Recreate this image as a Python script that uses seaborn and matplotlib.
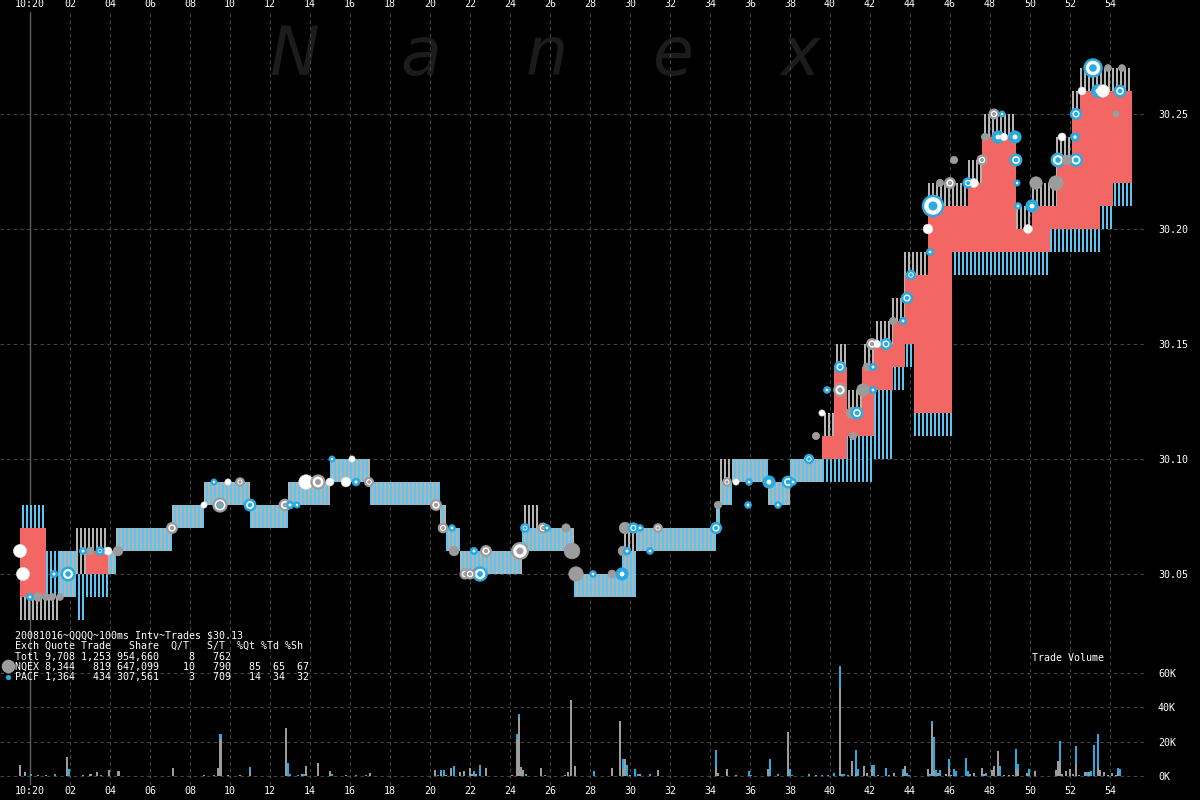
import numpy as np
import pandas as pd
import matplotlib
matplotlib.use("Agg")
import matplotlib.pyplot as plt
import seaborn as sns

# ---------------- data (time = seconds after 10:20:00) ----------------
seg_start = [-0.5, 0.8, 1.4, 2.3, 2.8, 3.9, 4.3, 7.1, 8.7, 11.0, 12.9, 15.0, 17.0,
             20.55, 20.8, 21.5, 24.6, 25.4, 27.2, 29.65, 30.3, 34.3, 34.5, 35.1,
             36.9, 38.0, 39.6, 40.2, 40.85, 41.6, 42.2, 43.15, 43.75, 44.2, 44.9,
             46.1, 46.9, 47.6, 49.3, 50.1, 51.0, 51.35, 52.1, 52.5, 53.5, 54.15]
quote_end = 55.1
nq_bid = [30.03, 30.03, 30.04, 30.05, 30.05, 30.05, 30.06, 30.07, 30.08, 30.07, 30.08, 30.09, 30.08,
          30.07, 30.06, 30.05, 30.06, 30.06, 30.04, 30.04, 30.06, 30.07, 30.08, 30.09,
          30.08, 30.09, 30.10, 30.10, 30.11, 30.11, 30.13, 30.14, 30.15, 30.12, 30.12,
          30.19, 30.19, 30.19, 30.19, 30.19, 30.20, 30.20, 30.20, 30.20, 30.21, 30.22]
nq_ask = [30.07, 30.04, 30.06, 30.07, 30.07, 30.06, 30.07, 30.08, 30.09, 30.08, 30.09, 30.10, 30.09,
          30.08, 30.07, 30.06, 30.08, 30.07, 30.05, 30.07, 30.07, 30.08, 30.10, 30.10,
          30.09, 30.10, 30.12, 30.15, 30.13, 30.15, 30.16, 30.17, 30.19, 30.19, 30.22,
          30.22, 30.23, 30.25, 30.21, 30.22, 30.22, 30.24, 30.26, 30.27, 30.27, 30.27]
pa_bid = [30.04, 30.04, 30.04, 30.03, 30.04, 30.05, 30.06, 30.07, 30.08, 30.07, 30.08, 30.09, 30.08,
          30.07, 30.06, 30.05, 30.06, 30.06, 30.04, 30.04, 30.06, 30.07, 30.08, 30.09,
          30.08, 30.09, 30.09, 30.09, 30.09, 30.09, 30.10, 30.13, 30.14, 30.11, 30.11,
          30.18, 30.18, 30.18, 30.18, 30.18, 30.19, 30.19, 30.19, 30.19, 30.20, 30.21]
pa_ask = [30.08, 30.06, 30.06, 30.05, 30.06, 30.06, 30.07, 30.08, 30.09, 30.08, 30.09, 30.10, 30.09,
          30.08, 30.07, 30.06, 30.07, 30.07, 30.05, 30.06, 30.07, 30.08, 30.09, 30.10,
          30.09, 30.10, 30.11, 30.14, 30.12, 30.14, 30.15, 30.16, 30.18, 30.18, 30.21,
          30.21, 30.22, 30.24, 30.20, 30.21, 30.21, 30.23, 30.25, 30.26, 30.26, 30.26]

trade_t = [-0.5, -0.35, 0.0, 0.4, 0.8, 1.1, 1.5, 1.2, 1.9, 2.65, 3.0, 3.5, 3.9, 4.4, 7.1, 8.7,
           9.5, 9.5, 9.2, 9.9, 10.5, 11.0, 12.75, 13.0, 13.35, 13.8, 14.4, 15.0, 15.8, 16.3,
           16.95, 15.1, 16.1, 20.3, 20.65, 21.1, 21.2, 22.2, 22.8, 21.75, 22.0, 22.5, 24.5,
           24.75, 25.65, 25.85, 26.8, 27.1, 27.3, 28.15, 29.1, 29.6, 29.75, 30.17, 30.5,
           29.65, 29.85, 31.4, 31.0, 34.3, 34.4, 34.85, 35.3, 35.95, 35.9, 36.95, 37.4,
           37.9, 38.15, 38.95, 39.3, 39.6, 39.85, 40.5, 40.5, 41.15, 41.1, 41.35, 41.65,
           42.15, 41.85, 42.15, 42.1, 42.35, 42.8, 43.15, 43.65, 43.85, 44.05, 45.0, 44.9,
           45.15, 45.5, 46.0, 46.2, 46.9, 47.2, 47.6, 47.75, 48.2, 48.6, 48.4, 48.7, 49.25,
           49.3, 49.35, 49.4, 49.9, 50.1, 50.3, 51.3, 51.6, 52.25, 51.4, 51.85, 52.3, 52.3,
           52.6, 53.15, 53.4, 53.65, 53.9, 54.5, 54.6, 54.3]
trade_p = [30.06, 30.05, 30.04, 30.04, 30.04, 30.04, 30.04, 30.05, 30.05, 30.06, 30.06, 30.06,
           30.06, 30.06, 30.07, 30.08, 30.08, 30.08, 30.09, 30.09, 30.09, 30.08, 30.08, 30.08,
           30.08, 30.09, 30.09, 30.09, 30.09, 30.09, 30.09, 30.10, 30.10, 30.08, 30.07, 30.07,
           30.06, 30.06, 30.06, 30.05, 30.05, 30.05, 30.06, 30.07, 30.07, 30.07, 30.07, 30.06,
           30.05, 30.05, 30.05, 30.05, 30.07, 30.07, 30.07, 30.06, 30.06, 30.07, 30.06, 30.07,
           30.08, 30.09, 30.09, 30.09, 30.08, 30.09, 30.08, 30.09, 30.09, 30.10, 30.11, 30.12,
           30.13, 30.13, 30.14, 30.11, 30.12, 30.12, 30.13, 30.13, 30.14, 30.14, 30.15, 30.15,
           30.15, 30.16, 30.16, 30.17, 30.18, 30.19, 30.20, 30.21, 30.22, 30.22, 30.23, 30.22,
           30.22, 30.23, 30.24, 30.25, 30.25, 30.24, 30.24, 30.24, 30.23, 30.22, 30.21, 30.20,
           30.21, 30.22, 30.22, 30.24, 30.24, 30.23, 30.23, 30.23, 30.25, 30.26, 30.27, 30.26,
           30.26, 30.27, 30.26, 30.27, 30.25]
trade_kind = ['W', 'W', 'P', 'N', 'N', 'N', 'N', 'P', 'RP', 'P', 'N', 'RP', 'W', 'N', 'RN', 'W',
              'RN', 'P', 'P', 'W', 'RN', 'RP', 'RN', 'P', 'P', 'W', 'RN', 'W', 'W', 'P',
              'RN', 'P', 'W', 'RN', 'RN', 'P', 'N', 'P', 'RN', 'RN', 'RN', 'RP', 'RN',
              'RP', 'RN', 'P', 'N', 'N', 'N', 'P', 'N', 'P', 'N', 'RP', 'P',
              'N', 'P', 'RN', 'P', 'RP', 'N', 'RN', 'W', 'P', 'P', 'P', 'P',
              'RP', 'P', 'RP', 'N', 'W', 'P', 'RN', 'RP', 'N', 'N', 'RP', 'N',
              'P', 'N', 'P', 'RN', 'W', 'RP', 'N', 'P', 'RP', 'RP', 'P', 'W',
              'RP', 'N', 'RN', 'N', 'RP', 'W', 'RN', 'N', 'RN', 'P', 'P', 'W', 'P',
              'RP', 'P', 'P', 'W', 'P', 'N', 'N', 'W', 'P', 'RP', 'N', 'RP', 'RP',
              'W', 'RP', 'P', 'W', 'N', 'RP', 'N', 'N']
trade_shares = [2000, 2000, 500, 800, 400, 400, 400, 500, 1800, 500, 600, 400, 600, 1000, 1000, 300,
                2000, 400, 300, 300, 500, 1200, 1200, 600, 300, 2500, 2000, 600, 1000, 600,
                600, 300, 300, 1000, 700, 400, 1000, 500, 1000, 800, 800, 2000, 3000,
                500, 800, 400, 700, 3000, 2500, 400, 600, 1800, 1500, 800, 400,
                1000, 600, 500, 400, 1000, 500, 500, 300, 400, 400, 1800, 400,
                1200, 400, 600, 500, 300, 400, 1500, 1000, 500, 1500, 1200, 1800,
                500, 600, 500, 1000, 500, 1000, 500, 500, 1000, 600, 500, 1000,
                5000, 500, 1000, 500, 800, 800, 800, 500, 800, 300, 1800, 500, 1800,
                1200, 300, 400, 800, 1800, 1800, 2500, 600, 800, 1800, 1000, 1500, 1000,
                600, 3500, 2000, 1800, 400, 1200, 400, 300]

vol_t = [-0.49, -0.26, 0.03, 0.41, 0.79, 1.23, 1.84, 1.93, 2.66, 3.02, 3.33, 3.56, 3.94, 4.42,
         7.13, 8.70, 9.19, 9.40, 9.52, 9.90, 10.50, 11.00, 12.80, 12.90, 13.00, 13.40, 13.60,
         13.70, 13.80, 14.40, 15.00, 15.10, 15.80, 16.30, 16.80, 17.00, 20.25, 20.40, 20.55,
         20.70, 20.80, 21.05, 21.20, 21.50, 21.70, 22.00, 22.10, 22.20, 22.30, 22.50, 22.80,
         24.10, 24.35, 24.45, 24.55, 24.65, 24.80, 25.55, 25.75, 26.75, 26.90, 27.05, 27.25,
         28.20, 29.10, 29.50, 29.65, 29.75, 29.85, 30.00, 30.25, 30.40, 30.50, 31.00, 31.40,
         34.30, 34.40, 34.85, 35.30, 35.95, 36.05, 36.90, 37.00, 37.40, 37.90, 38.00, 38.10,
         38.95, 39.30, 39.60, 39.90, 40.20, 40.50, 40.60, 40.70, 40.90, 41.10, 41.30, 41.40,
         41.70, 41.85, 42.10, 42.20, 42.40, 42.80, 42.95, 43.20, 43.65, 43.75, 43.85, 43.95,
         44.90, 45.00, 45.10, 45.20, 45.30, 45.40, 45.50, 45.80, 45.95, 46.05, 46.20, 46.30,
         46.80, 46.90, 47.00, 47.20, 47.60, 47.70, 47.80, 48.10, 48.20, 48.40, 48.50, 48.70,
         48.95, 49.15, 49.30, 49.40, 49.85, 49.95, 50.25, 51.30, 51.40, 51.50, 51.60, 51.80,
         52.00, 52.15, 52.30, 52.45, 52.75, 52.85, 52.95, 53.05, 53.20, 53.40, 53.50, 53.70,
         53.90, 54.10, 54.30, 54.40, 54.50]
vol_nq_k = [6.2, 2.3, 0, 0.4, 0.3, 0, 10.9, 0, 0.5, 1.0, 2.1, 0, 3.3, 2.7,
            4.5, 0.3, 0, 4.5, 21.7, 0.3, 0.4, 2.5, 27.7, 0, 0, 0, 1.0,
            0, 5.8, 7.7, 2.7, 0, 0.5, 0, 0, 1.5, 3.3, 0, 2.0,
            0, 0.4, 3.9, 0, 2.3, 2.9, 4.5, 1.0, 0, 1.0, 0, 4.5,
            0.3, 21.7, 34.5, 5.0, 3.3, 0, 4.5, 0, 0.3, 2.5, 44.0, 5.6,
            0, 4.5, 31.8, 4.0, 10.0, 0, 0.5, 0, 0, 1.0, 0, 3.3,
            5.0, 1.5, 4.0, 0.3, 0, 0, 4.0, 0, 0, 25.6, 0, 0,
            0, 0.3, 0, 0, 0, 52.0, 0, 0, 0.6, 9.0, 2.0, 0,
            5.6, 2.0, 5.0, 0, 0.5, 0, 0.5, 1.5, 1.0, 5.8, 0, 0,
            3.9, 0, 30.0, 3.0, 0, 1.5, 0, 1.0, 5.0, 0.6, 0, 0,
            0, 0, 1.0, 1.5, 4.5, 1.0, 0, 3.3, 5.6, 14.5, 0, 0.5,
            0.6, 0.6, 4.0, 3.0, 2.0, 0, 2.7, 3.3, 9.0, 9.0, 1.4, 3.0,
            4.0, 1.2, 7.0, 0.4, 2.5, 0, 2.5, 0, 0, 5.0, 3.3, 2.5,
            0.6, 2.0, 0.6, 3.0, 0]
vol_pa_k = [0, 0, 1.0, 0, 0, 1.0, 0, 3.9, 0.3, 0, 0, 0.5, 0, 0,
            0, 0, 0.5, 0, 2.7, 0, 0, 2.5, 0, 7.7, 1.0, 0.3, 0,
            1.0, 0, 0, 0, 1.0, 0, 0.4, 0.3, 0, 0, 0.4, 1.3,
            3.3, 0, 1.0, 5.6, 0, 0, 0, 0, 2.7, 0, 6.6, 0,
            0, 2.5, 1.4, 0, 0, 1.0, 0, 0.5, 0, 0, 0, 0,
            2.7, 0, 0, 6.0, 0, 6.2, 0, 4.0, 1.0, 0, 1.0, 0,
            10.0, 0, 0, 0, 2.7, 0.3, 0, 9.7, 1.0, 0, 4.0, 0.3,
            1.0, 0, 0.6, 0.3, 2.0, 12.0, 1.0, 1.4, 0, 0, 13.0, 4.2,
            0, 0, 1.3, 6.2, 0, 4.5, 0, 0, 3.3, 0, 2.0, 0.6,
            0, 1.0, 1.8, 19.7, 3.3, 0, 3.3, 0, 4.7, 0, 4.2, 2.7,
            10.5, 2.7, 0, 0, 0, 0, 1.5, 0, 0, 0, 5.6, 0,
            0, 0, 12.0, 4.0, 0, 4.0, 0, 0, 0, 11.4, 0, 0,
            0, 0, 10.4, 0, 0, 2.5, 0, 3.0, 17.8, 19.6, 0, 0,
            0, 0, 0, 1.5, 4.0]

tick_seconds = list(range(0, 56, 2))
tick_labels = ["10:20"] + ["%02d" % s for s in tick_seconds[1:]]
price_ticks = [30.05, 30.10, 30.15, 30.20, 30.25]
vol_ticks = [0, 20, 40, 60]
vol_tick_labels = ["0K", "20K", "40K", "60K"]

stats_rows = ["20081016~QQQQ~100ms Intv~Trades $30.13",
              "Exch Quote Trade   Share  Q/T   S/T  %Qt %Td %Sh",
              "Totl 9,708 1,253 954,660     8   762",
              "NQEX 8,344   819 647,099    10   790   85  65  67",
              "PACF 1,364   434 307,561     3   709   14  34  32"]

# ---------------- style ----------------
sns.set_style("dark", {"axes.facecolor": "none", "figure.facecolor": "black"})
plt.rcParams["font.family"] = ["DejaVu Sans Mono"]

GRAY_Q = "#b4b4b4"
BLUE_Q = "#5cc6f2"
RED = "#f26763"
GRAY_T = "#9c9c9c"
BLUE_T = "#29aae1"
GRID = "#454545"
FS = 7.2

W, H = 1200, 800
fig = plt.figure(figsize=(12, 8), dpi=100, facecolor="black")
ax = fig.add_axes([0, 1 - 650 / H, 1145 / W, 638 / H])
ax2 = fig.add_axes([0, 1 - 785 / H, 1145 / W, 135 / H])
xlim = (-1.5, 55.75)
for a in (ax, ax2):
    a.set_facecolor("none")
    a.set_xlim(*xlim)
    for sp in a.spines.values():
        sp.set_visible(False)
    a.set_axisbelow(True)
    a.grid(True, color=GRID, linestyle=(0, (3, 3)), linewidth=0.8)
    a.set_xticks(tick_seconds)
    a.axvline(0, color="#5c5c5c", lw=1.0, zorder=1)

# price scale: 30.25 at y=114 px, 2300 px per dollar
ax.set_ylim(30.25 - (650 - 114) / 2300, 30.25 + (114 - 12) / 2300)
ax.set_yticks(price_ticks)
ax.set_yticklabels(["%.2f" % p for p in price_ticks])
ax.set_xticklabels(tick_labels)
ax.tick_params(axis="x", length=0, pad=2, labelsize=FS, labelcolor="white",
               labeltop=True, labelbottom=False)
ax.tick_params(axis="y", length=0, pad=9.4, labelsize=FS, labelcolor="white",
               labelright=True, labelleft=False)

# volume scale: 0K at y=776, 1.7167 px per K
ax2.set_ylim((776 - 785) / 1.7167, (776 - 650) / 1.7167)
ax2.set_yticks(vol_ticks)
ax2.set_yticklabels(vol_tick_labels)
ax2.set_xticklabels(tick_labels)
ax2.tick_params(axis="x", length=0, pad=1, labelsize=FS, labelcolor="white",
                labeltop=False, labelbottom=True)
ax2.tick_params(axis="y", length=0, pad=9.4, labelsize=FS, labelcolor="white",
                labelright=True, labelleft=False)

# watermark
for i, ch in enumerate("Nanex"):
    ax.text((294 + 126.5 * i) / W, 1 - 75 / H, ch, transform=fig.transFigure,
            fontsize=48, style="italic", family=["DejaVu Sans"],
            color="#1c1c1c", ha="center", va="baseline", zorder=0.2)

# ---------------- quotes: interleaved exchange columns (one per 100ms) ----------------
starts = np.array(seg_start)
nqb, nqa = np.array(nq_bid), np.array(nq_ask)
pab, paa = np.array(pa_bid), np.array(pa_ask)
dt = 0.1
k = np.arange(int(round((quote_end - starts[0]) / dt)))
t_left = starts[0] + dt * k
idx = np.searchsorted(starts, t_left + dt / 2, side="right") - 1
ev = (k % 2) == 0
ax.bar(t_left[ev], (nqa - nqb)[idx[ev]], bottom=nqb[idx[ev]], width=dt,
       align="edge", color=GRAY_Q, lw=0, zorder=2)
ax.bar(t_left[~ev], (paa - pab)[idx[~ev]], bottom=pab[idx[~ev]], width=dt,
       align="edge", color=BLUE_Q, lw=0, zorder=2)

# red: NBB and NBO set by different exchanges
ends = np.append(starts[1:], quote_end)
lo = np.maximum(nqb, pab)
hi = np.minimum(nqa, paa)
crossed = ((nqb > pab) & (nqa > paa)) | ((pab > nqb) & (paa > nqa))
red = crossed & (hi > lo + 1e-9)
ax.bar(starts[red], (hi - lo)[red], bottom=lo[red], width=(ends - starts)[red],
       align="edge", color=RED, lw=0, zorder=3)

# ---------------- trades ----------------
tr = pd.DataFrame({"t": trade_t, "price": trade_p, "kind": trade_kind,
                   "shares": trade_shares})
tr["area"] = 8 + tr["shares"] * 0.04
tr = tr.sort_values("area", ascending=False).reset_index(drop=True)
face = {"N": GRAY_T, "P": BLUE_T, "W": "white", "RN": "white", "RP": "white"}
edge = {"N": GRAY_T, "P": BLUE_T, "W": "#e0e0e0", "RN": GRAY_T, "RP": BLUE_T}
elw = {"N": 0.5, "P": 0.5, "W": 0.5, "RN": 1.6, "RP": 1.8}
sns.scatterplot(data=tr, x="t", y="price", hue="kind", palette=face,
                size="area", sizes=(tr["area"].min(), tr["area"].max()),
                size_norm=(tr["area"].min(), tr["area"].max()),
                edgecolor=[edge[k_] for k_ in tr["kind"]],
                linewidth=[elw[k_] for k_ in tr["kind"]],
                legend=False, ax=ax, zorder=5)
ctr = tr[tr["kind"].isin(["P", "RN", "RP"])].copy()
center_col = {"P": "white", "RN": GRAY_T, "RP": BLUE_T}
ctr["carea"] = ctr["area"] * np.where(ctr["kind"] == "P", 0.15, 0.2)
for kd, sub in ctr.groupby("kind"):
    ax.scatter(sub["t"], sub["price"], s=sub["carea"], color=center_col[kd],
               lw=0, zorder=6)
ax.set_xlabel("")
ax.set_ylabel("")

# ---------------- volume ----------------
vol = pd.DataFrame({"t": vol_t, "nq": vol_nq_k, "pa": vol_pa_k})
ax2.bar(vol["t"], vol["nq"], width=0.11, color=GRAY_T, lw=0, zorder=3)
ax2.bar(vol["t"], vol["pa"], bottom=vol["nq"], width=0.11, color=BLUE_T, lw=0, zorder=3)

# ---------------- text overlays ----------------
row_y = [635, 646, 657, 667, 677]
for txt, yy in zip(stats_rows, row_y):
    fig.text(15 / W, 1 - yy / H, txt, color="white", fontsize=FS, ha="left",
             va="center", family="DejaVu Sans Mono")
fig.text(1032 / W, 1 - 658 / H, "Trade Volume", color="white", fontsize=FS,
         ha="left", va="center", family="DejaVu Sans Mono")

ov = fig.add_axes([0, 0, 1, 1], facecolor="none")
ov.set_xlim(0, W)
ov.set_ylim(H, 0)
ov.axis("off")
ov.scatter([8], [666], s=95, color=GRAY_T, lw=0)
ov.scatter([8], [677], s=14, color=BLUE_T, lw=0)

fig.savefig("out.png", dpi=100, facecolor="black")
